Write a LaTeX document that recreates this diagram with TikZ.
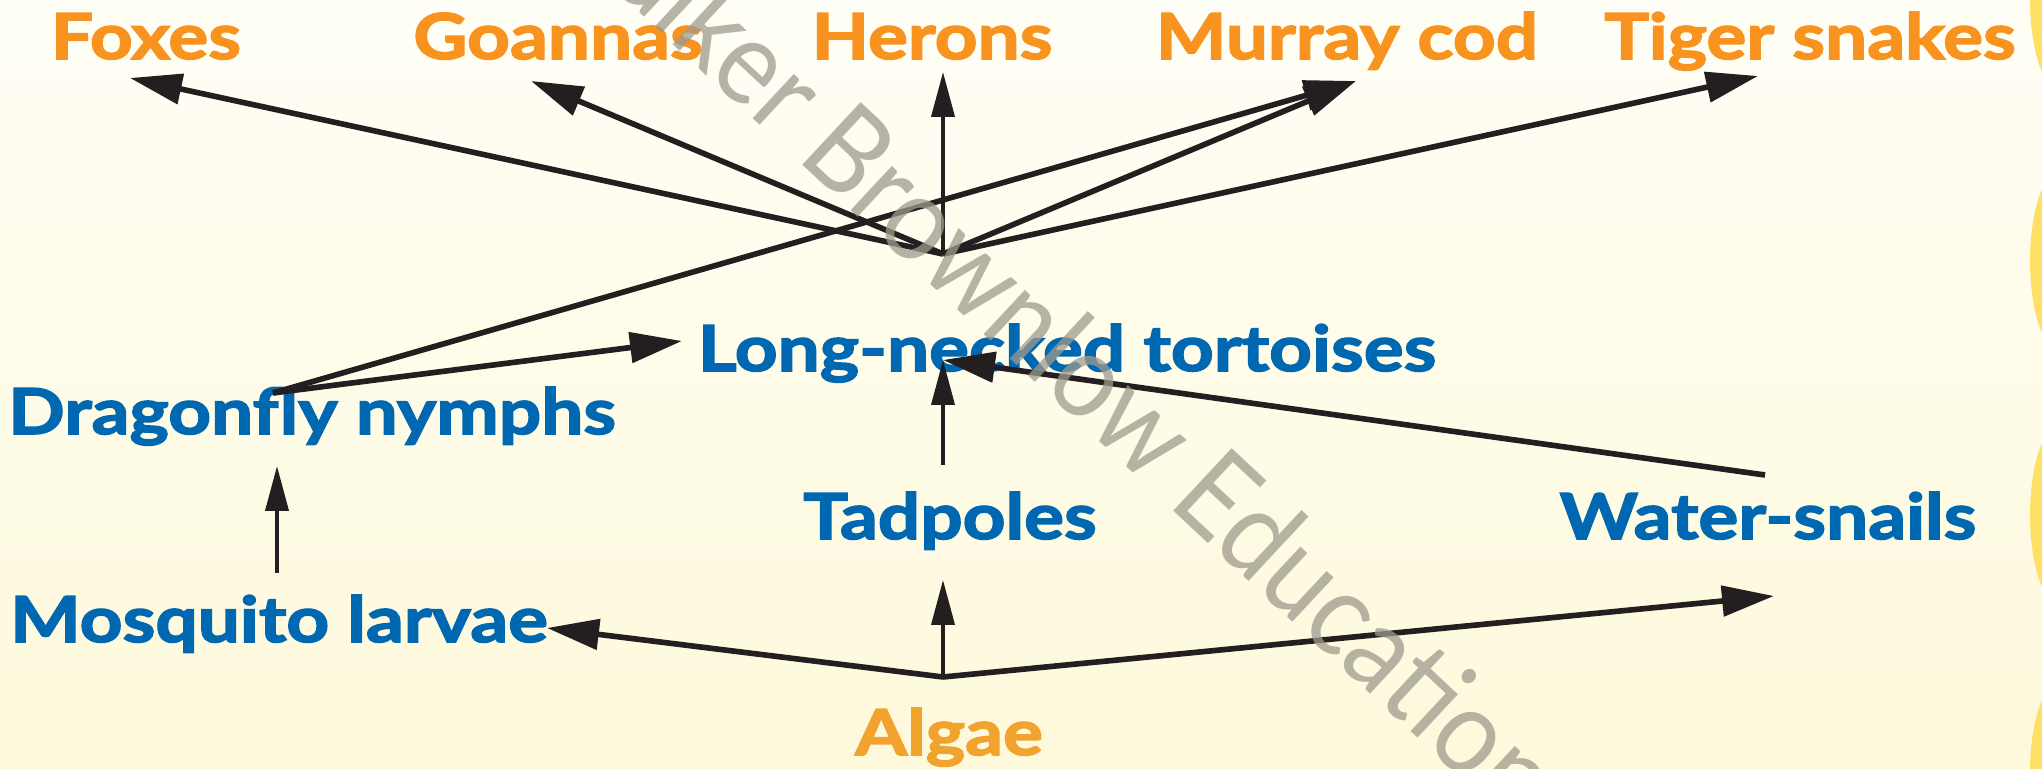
\documentclass[tikz,border=0pt]{standalone}
\usepackage{fontspec}
\setmainfont{Lato}[BoldFeatures={FakeBold=2.5,FakeStretch=1.18}]
\newfontfamily\wmfont{Lato}[FakeStretch=0.9]
\usepackage{xcolor}
\definecolor{eaterorange}{HTML}{F7931E}
\definecolor{algaeorange}{HTML}{F2A32E}
\definecolor{webblue}{HTML}{0067B1}
\definecolor{arrowblack}{HTML}{231F20}
\definecolor{bgtop}{HTML}{FFFEF6}
\definecolor{bgbottom}{HTML}{FEF9DB}
\definecolor{bumpyellow}{HTML}{FFE066}
\definecolor{wmgrey}{HTML}{9E9B8D}
\usepackage{tikz}
\usetikzlibrary{arrows.meta}

\begin{document}
\begin{tikzpicture}[
    eater/.style={font=\bfseries\fontsize{18}{20}\selectfont,text=eaterorange,anchor=base,inner sep=0pt},
    eaten/.style={eater,text=webblue},
    link/.style={draw=arrowblack,line width=1.6pt,-{Triangle[length=0.52cm,width=0.3cm]}},
    uplink/.style={draw=arrowblack,line width=1.1pt,-{Triangle[length=0.45cm,width=0.23cm]}},
    watermark/.style={font=\wmfont\fontsize{34}{36}\selectfont,text=wmgrey,text opacity=0.75,rotate=-43}
  ]
        \shade[top color=bgtop,bottom color=bgbottom] (0,0) rectangle (20.42,-7.69);
        \useasboundingbox (0,0) rectangle (20.42,-7.69);
        % yellow edge of the page
        \foreach \y in {0,2.61,5.15,7.72}
          \fill[bumpyellow] (20.6,-\y) ellipse (0.3cm and 0.9cm);

        \node[eater] (foxes) at (1.46,-0.59) {Foxes};
        \node[eater] (goannas) at (5.58,-0.59) {Goannas};
        \node[eater] (herons) at (9.32,-0.59) {Herons};
        \node[eater] (murraycod) at (13.47,-0.59) {Murray cod};
        \node[eater] (tigersnakes) at (18.10,-0.59) {Tiger snakes};
        \node[eaten] (tortoises) at (10.67,-3.71) {Long-necked tortoises};
        \node[eaten] (dragonfly) at (3.12,-4.34) {Dragonfly nymphs};
        \node[eaten] (tadpoles) at (9.50,-5.39) {Tadpoles};
        \node[eaten] (snails) at (17.68,-5.39) {Water-snails};
        \node[eaten] (mosquito) at (2.79,-6.42) {Mosquito larvae};
        \node[eater,text=algaeorange] (algae) at (9.49,-7.55) {Algae};

        \coordinate (tortoisehub) at (9.43,-2.54);
        \coordinate (algaehub) at (9.43,-6.77);
        \coordinate (dragonflyhub) at (2.73,-3.93);
        \coordinate (snailstail) at (17.65,-4.75);
        \coordinate (tadpolestail) at (9.43,-4.65);
        \coordinate (mosquitotail) at (2.77,-5.73);
        \coordinate (foxesin) at (1.30,-0.78);
        \coordinate (goannasin) at (5.31,-0.81);
        \coordinate (heronsin) at (9.43,-0.72);
        \coordinate (murraycodin) at (13.56,-0.81);
        \coordinate (tigersnakesin) at (17.58,-0.76);
        \coordinate (tortoisesleft) at (6.82,-3.41);
        \coordinate (tortoisesbelow) at (9.43,-3.60);
        \coordinate (dragonflyin) at (2.77,-4.66);
        \coordinate (mosquitoin) at (5.47,-6.28);
        \coordinate (tadpolesin) at (9.43,-5.80);
        \coordinate (snailsin) at (17.74,-5.96);

        \draw[link] (tortoisehub) -- (foxesin);
        \draw[link] (tortoisehub) -- (goannasin);
        \draw[uplink] (tortoisehub) -- (heronsin);
        \draw[link] (tortoisehub) -- (murraycodin);
        \draw[link] (tortoisehub) -- (tigersnakesin);
        \draw[link] (dragonflyhub) -- (murraycodin);
        \draw[link] (dragonflyhub) -- (tortoisesleft);
        \draw[uplink] (tadpolestail) -- (tortoisesbelow);
        \draw[link] (snailstail) -- (tortoisesbelow);
        \draw[uplink] (mosquitotail) -- (dragonflyin);
        \draw[link] (algaehub) -- (mosquitoin);
        \draw[uplink] (algaehub) -- (tadpolesin);
        \draw[link] (algaehub) -- (snailsin);

        \node[watermark] (wm) at (10.52,-3.38) {Walker Brownlow Education};
      \end{tikzpicture}
\end{document}
